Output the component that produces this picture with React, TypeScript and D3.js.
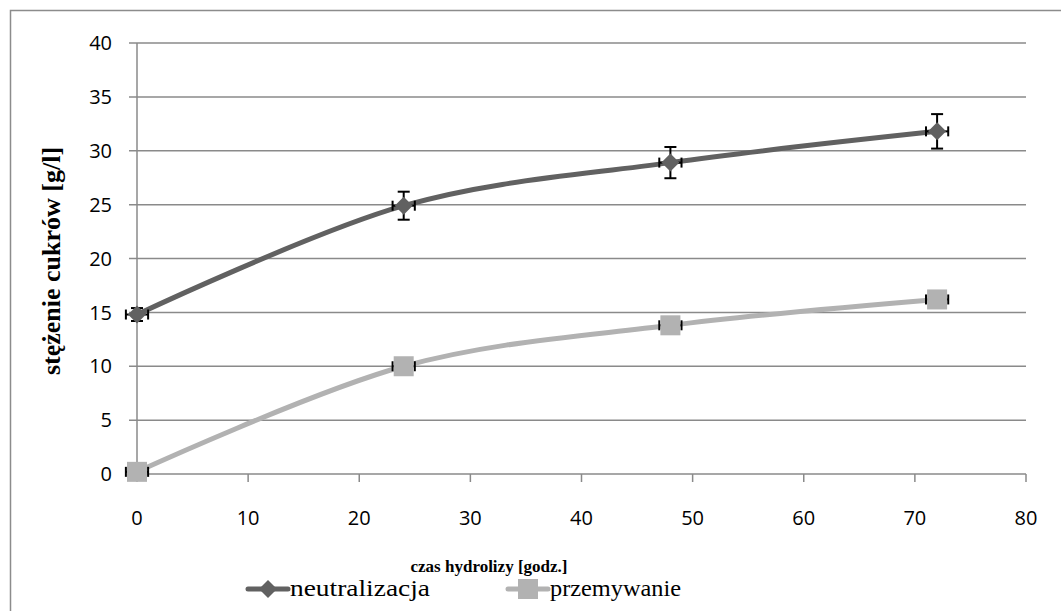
import React from "react";
import * as d3 from "d3";

// hydrolysis time [h]
const hours = [0, 24, 48, 72];
// sugar concentration [g/l]
const neutralizacja = [14.8, 24.9, 28.9, 31.8];
const neutralizacjaErr = [0.6, 1.3, 1.45, 1.6];
const przemywanie = [0.2, 10.0, 13.8, 16.2];
const przemywanieErr = [0.3, 0.4, 0.4, 0.4];
const timeErr = 1;
const xTicks = [0, 10, 20, 30, 40, 50, 60, 70, 80];
const yTicks = [0, 5, 10, 15, 20, 25, 30, 35, 40];

const W = 1061;
const H = 611;
const plot = { left: 137, right: 1026, top: 43, bottom: 474 };

export default function App() {
  const x = d3.scaleLinear().domain([0, 80]).range([plot.left, plot.right]);
  const y = d3.scaleLinear().domain([0, 40]).range([plot.bottom, plot.top]);
  const line = d3
    .line<number>()
    .x((_, i) => x(hours[i]))
    .y((d) => y(d))
    .curve(d3.curveCardinal.tension(0));

  const series = [
    { name: "neutralizacja", values: neutralizacja, err: neutralizacjaErr, color: "#616161", shape: "diamond" },
    { name: "przemywanie", values: przemywanie, err: przemywanieErr, color: "#b2b2b2", shape: "square" },
  ];

  const marker = (shape: string, cx: number, cy: number, color: string, key: string) =>
    shape === "diamond" ? (
      <path key={key} d={`M${cx},${cy - 9}L${cx + 9},${cy}L${cx},${cy + 9}L${cx - 9},${cy}Z`} fill={color} />
    ) : (
      <rect key={key} x={cx - 10} y={cy - 10} width={20} height={20} fill={color} />
    );

  const tickFont = "'Open Sans', 'DejaVu Sans', sans-serif";
  const serif = "'Liberation Serif', 'Times New Roman', serif";

  return (
    <svg width={W} height={H} style={{ position: "absolute", left: 0, top: 0, background: "#fff" }}>
      <rect x={10.5} y={10.5} width={W} height={H} fill="#fff" stroke="#8c8c8c" strokeWidth={1.5} />

      {/* gridlines and y ticks */}
      {yTicks.map((t) => (
        <line key={"g" + t} x1={plot.left - 8} x2={plot.right} y1={y(t)} y2={y(t)} stroke="#8a8a8a" strokeWidth={1.5} />
      ))}
      {/* y axis */}
      <line x1={plot.left} x2={plot.left} y1={plot.top} y2={plot.bottom} stroke="#8a8a8a" strokeWidth={1.5} />
      {/* x ticks */}
      {xTicks.map((t) => (
        <line key={"xt" + t} x1={x(t)} x2={x(t)} y1={plot.bottom} y2={plot.bottom + 8} stroke="#8a8a8a" strokeWidth={1.5} />
      ))}

      {yTicks.map((t) => (
        <text key={"yl" + t} x={112} y={y(t)} dy="0.36em" textAnchor="end" fontFamily={tickFont} fontSize={20} fill="#000">
          {t}
        </text>
      ))}
      {xTicks.map((t) => (
        <text key={"xl" + t} x={x(t)} y={525} textAnchor="middle" fontFamily={tickFont} fontSize={20} fill="#000">
          {t}
        </text>
      ))}

      {/* series lines */}
      {series.map((s) => (
        <path key={s.name} d={line(s.values) || ""} fill="none" stroke={s.color} strokeWidth={5} />
      ))}

      {/* error bars */}
      {series.map((s) =>
        s.values.map((v, i) => {
          const cx = x(hours[i]);
          const cy = y(v);
          const t = y(v + s.err[i]);
          const b = y(v - s.err[i]);
          const l = x(hours[i] - timeErr);
          const r = x(hours[i] + timeErr);
          return (
            <g key={s.name + "e" + i} stroke="#000" strokeWidth={2}>
              <line x1={cx} x2={cx} y1={t} y2={b} />
              <line x1={cx - 6} x2={cx + 6} y1={t} y2={t} />
              <line x1={cx - 6} x2={cx + 6} y1={b} y2={b} />
              <line x1={l} x2={r} y1={cy} y2={cy} />
              <line x1={l} x2={l} y1={cy - 5} y2={cy + 5} />
              <line x1={r} x2={r} y1={cy - 5} y2={cy + 5} />
            </g>
          );
        })
      )}

      {/* markers */}
      {series.map((s) => s.values.map((v, i) => marker(s.shape, x(hours[i]), y(v), s.color, s.name + "m" + i)))}

      {/* axis titles */}
      <text
        transform="translate(60,261) rotate(-90)"
        textAnchor="middle"
        fontFamily={serif}
        fontWeight="bold"
        fontSize={26}
        fill="#000"
      >
        stężenie cukrów  [g/l]
      </text>
      <text x={489} y={572} textAnchor="middle" fontFamily={serif} fontWeight="bold" fontSize={17} fill="#000">
        czas hydrolizy [godz.]
      </text>

      {/* legend */}
      {series.map((s, i) => {
        const lx = i === 0 ? 248 : 508;
        const ly = 589;
        return (
          <g key={"lg" + s.name}>
            <line x1={lx} x2={lx + 40} y1={ly} y2={ly} stroke={s.color} strokeWidth={5} strokeLinecap="round" />
            {marker(s.shape, lx + 20, ly, s.color, "lm" + i)}
            <text
              x={lx + 42}
              y={ly + 7}
              fontFamily={serif}
              fontSize={24}
              fill="#000"
              textLength={i === 0 ? 140 : 131}
              lengthAdjust="spacingAndGlyphs"
            >
              {s.name}
            </text>
          </g>
        );
      })}
    </svg>
  );
}
